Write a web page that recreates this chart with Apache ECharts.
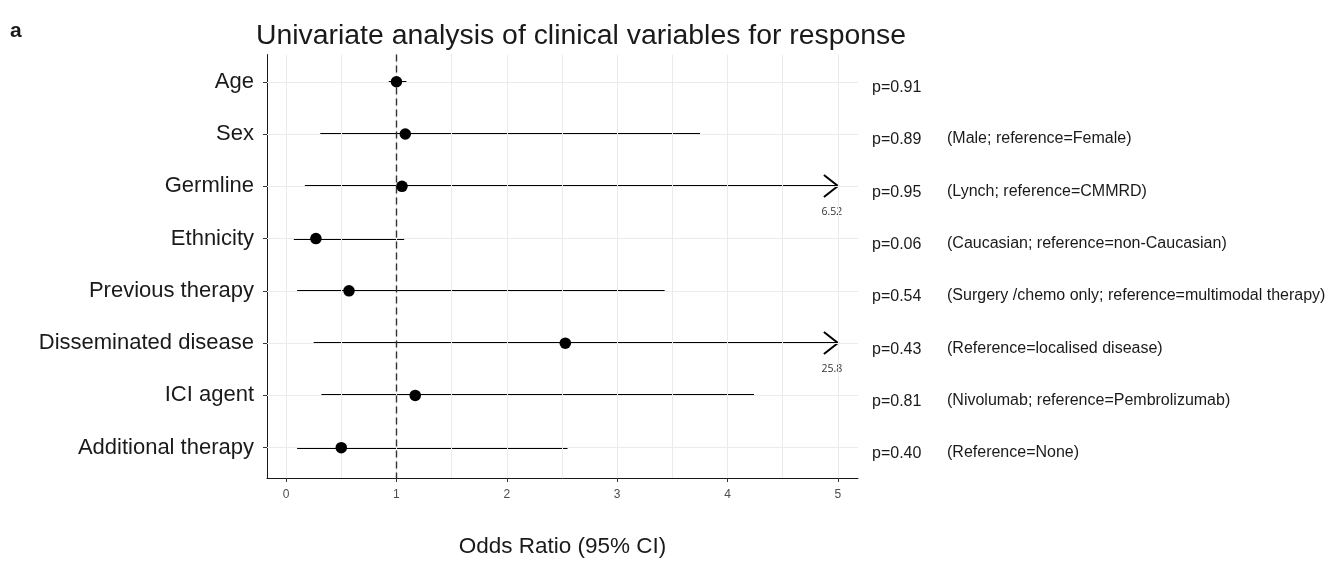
<!DOCTYPE html>
<html>
<head>
<meta charset="utf-8">
<script src="https://cdn.jsdelivr.net/npm/echarts@6/dist/echarts.min.js"></script>
<style>html,body{margin:0;padding:0;background:#fff;width:100%;height:100%;overflow:hidden;}#chart{width:1337px;height:563px;}</style>
</head>
<body>
<div id="chart"></div>
<script>
const categories = ['Age', 'Sex', 'Germline', 'Ethnicity', 'Previous therapy', 'Disseminated disease', 'ICI agent', 'Additional therapy'];
const oddsRatio = [1.00, 1.08, 1.05, 0.27, 0.57, 2.53, 1.17, 0.50];
const ciLower = [0.93, 0.31, 0.17, 0.07, 0.10, 0.25, 0.32, 0.10];
const ciUpper = [1.09, 3.75, 6.52, 1.07, 3.43, 25.8, 4.24, 2.55];
const pValues = ['p=0.91', 'p=0.89', 'p=0.95', 'p=0.06', 'p=0.54', 'p=0.43', 'p=0.81', 'p=0.40'];
const notes = ['', '(Male; reference=Female)', '(Lynch; reference=CMMRD)', '(Caucasian; reference=non-Caucasian)', '(Surgery /chemo only; reference=multimodal therapy)', '(Reference=localised disease)', '(Nivolumab; reference=Pembrolizumab)', '(Reference=None)'];
const xTicks = [0, 1, 2, 3, 4, 5];
const xGridValues = [0, 0.5, 1, 1.5, 2, 2.5, 3, 3.5, 4, 4.5, 5];
const axisCap = 5;
const refValue = 1;

const FONT = '"Liberation Sans", Arial, Helvetica, sans-serif';
const rows = categories.map((c, i) => i);
const xMin = -0.173, xMax = 5.182;
const yMin = -0.52, yMax = categories.length - 1 + 0.58;

const chart = echarts.init(document.getElementById('chart'), null, {renderer: 'canvas'});

const option = {
  backgroundColor: '#fff',
  animation: false,
  title: [
    {text: 'a', left: 5, top: 16, textStyle: {fontFamily: FONT, fontSize: 21, fontWeight: 'bold', color: '#1a1a1a'}},
    {text: 'Univariate analysis of clinical variables for response', left: 576, top: 17, textAlign: 'center',
     textStyle: {fontFamily: FONT, fontSize: 28.4, fontWeight: 'normal', color: '#1a1a1a'}}
  ],
  grid: {left: 267, width: 858 - 267, top: 54.6, height: 480.7 - 54.6, containLabel: false},
  xAxis: {
    type: 'value', min: xMin, max: xMax,
    axisLine: {show: true, onZero: false, lineStyle: {color: '#1a1a1a', width: 1}},
    axisTick: {show: true, customValues: xTicks, length: 4, lineStyle: {color: '#333', width: 1}},
    axisLabel: {show: true, customValues: xTicks, margin: 11, fontFamily: FONT, fontSize: 12, color: '#4d4d4d'},
    splitLine: {show: false},
    name: 'Odds Ratio (95% CI)', nameLocation: 'middle', nameGap: 57,
    nameTextStyle: {fontFamily: FONT, fontSize: 22.5, color: '#1a1a1a'}
  },
  yAxis: {
    type: 'value', min: yMin, max: yMax, inverse: true,
    axisLine: {show: true, onZero: false, lineStyle: {color: '#1a1a1a', width: 1}},
    axisTick: {show: true, customValues: rows, length: 4, lineStyle: {color: '#333', width: 1}},
    axisLabel: {show: true, customValues: rows, margin: 13, fontFamily: FONT, fontSize: 22, color: '#1a1a1a',
      formatter: v => categories[Math.round(v)]},
    splitLine: {show: false}
  },
  series: [
    {
      type: 'scatter', data: [], silent: true, z: 0,
      markLine: {
        silent: true, symbol: 'none', label: {show: false},
        lineStyle: {color: '#ebebeb', width: 1, type: 'solid'},
        data: xGridValues.map(v => ({xAxis: v})).concat(rows.map(r => ({yAxis: r})))
      }
    },
    {
      type: 'scatter', data: [], silent: true, z: 3,
      markLine: {
        silent: true, symbol: 'none', label: {show: false},
        lineStyle: {color: '#333', width: 1.4, type: [7, 4]},
        data: [{xAxis: refValue}]
      }
    },
    {
      type: 'custom', z: 4, clip: false, silent: true,
      data: rows.map(i => [ciLower[i], ciUpper[i], i]),
      encode: {x: [0, 1], y: 2},
      renderItem: function (params, api) {
        const lo = api.value(0), hi = api.value(1), row = api.value(2);
        const end = Math.min(hi, axisCap);
        const p0 = api.coord([lo, row]);
        const p1 = api.coord([end, row]);
        const y = Math.round(p1[1]);
        const children = [{type: 'line', shape: {x1: p0[0], y1: y, x2: p1[0], y2: y},
          style: {stroke: '#000', lineWidth: 2}}];
        if (hi > axisCap) {
          children.push({type: 'polyline', shape: {points: [[p1[0] - 14, y - 11], [p1[0], y], [p1[0] - 14, y + 11]]},
            style: {stroke: '#000', lineWidth: 2, fill: 'none'}});
          children.push({type: 'text', style: {text: String(hi), x: p1[0] - 6, y: y + 26, align: 'center', verticalAlign: 'middle',
            fontFamily: '"Open Sans", "Noto Sans", sans-serif', fontSize: 10.5, fill: '#333'}});
        }
        return {type: 'group', children: children};
      }
    },
    {
      type: 'scatter', z: 5, silent: true,
      symbol: 'circle', symbolSize: 11.5,
      itemStyle: {color: '#000', opacity: 1},
      data: rows.map(i => [oddsRatio[i], i])
    },
    {
      type: 'custom', z: 5, clip: false, silent: true,
      data: rows.map(i => [xMax, i]),
      encode: {x: 0, y: 1},
      renderItem: function (params, api) {
        const row = api.value(1);
        const p = api.coord([xMax, row]);
        const idx = params.dataIndex;
        return {type: 'group', children: [
          {type: 'text', style: {text: pValues[idx], x: p[0] + 14, y: p[1] + 6, align: 'left', verticalAlign: 'middle',
            fontFamily: FONT, fontSize: 16, fill: '#1a1a1a'}},
          {type: 'text', style: {text: notes[idx], x: p[0] + 89, y: p[1] + 5, align: 'left', verticalAlign: 'middle',
            fontFamily: FONT, fontSize: 16, fill: '#1a1a1a'}}
        ]};
      }
    }
  ]
};
chart.setOption(option);
</script>
</body>
</html>
